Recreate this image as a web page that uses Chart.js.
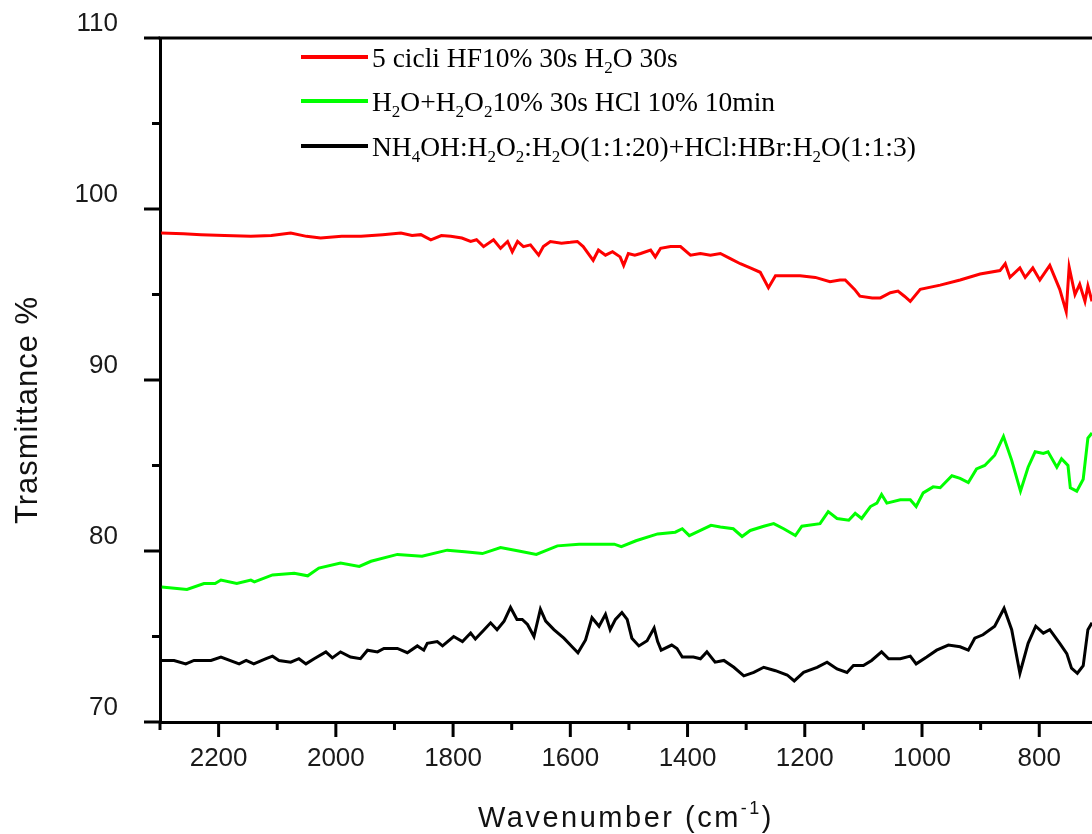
<!DOCTYPE html>
<html>
<head>
<meta charset="utf-8">
<script src="https://cdn.jsdelivr.net/npm/chart.js@4.4.1/dist/chart.umd.min.js"></script>
<style>
html,body{margin:0;padding:0;background:#ffffff;overflow:hidden}
canvas{display:block}
</style>
</head>
<body>
<canvas id="c" width="1092" height="834"></canvas>
<script>
// ---- data (wavenumber cm^-1, transmittance %) ----
const seriesLabels = [
  "5 cicli HF10% 30s H_2O 30s",
  "H_2O+H_2O_210% 30s HCl 10% 10min",
  "NH_4OH:H_2O_2:H_2O(1:1:20)+HCl:HBr:H_2O(1:1:3)"
];
const seriesColors = ["#ff0000", "#00ff00", "#000000"];

const redWn = [2298,2260,2230,2190,2145,2110,2077,2050,2026,1990,1957,1920,1889,1870,1855,1838,1820,1804,1785,1770,1760,1748,1731,1719,1707,1699,1690,1680,1668,1654,1646,1634,1615,1600,1588,1578,1561,1552,1540,1528,1515,1509,1501,1490,1480,1463,1455,1446,1429,1412,1395,1378,1361,1344,1327,1310,1293,1276,1262,1250,1225,1208,1182,1157,1140,1131,1115,1106,1085,1071,1054,1041,1030,1020,1003,969,935,901,867,858,850,833,824,811,799,782,765,754,749,739,731,722,717,710];
const redT  = [98.6,98.55,98.5,98.45,98.4,98.45,98.6,98.4,98.3,98.4,98.4,98.5,98.6,98.45,98.5,98.2,98.45,98.4,98.3,98.1,98.2,97.8,98.2,97.7,98.1,97.5,98.1,97.8,97.9,97.3,97.8,98.1,98.0,98.05,98.1,97.8,97.0,97.6,97.3,97.5,97.2,96.7,97.4,97.3,97.4,97.6,97.2,97.7,97.8,97.8,97.3,97.4,97.3,97.4,97.1,96.8,96.55,96.3,95.4,96.1,96.1,96.1,96.0,95.75,95.85,95.85,95.3,94.9,94.8,94.8,95.1,95.2,94.9,94.6,95.3,95.55,95.85,96.2,96.4,96.8,96.0,96.55,96.0,96.55,95.85,96.7,95.3,94.0,96.6,95.0,95.6,94.6,95.5,94.6];

const greenWn = [2297,2254,2225,2206,2196,2169,2145,2139,2108,2071,2048,2029,1992,1960,1940,1895,1853,1810,1780,1750,1719,1688,1658,1622,1585,1549,1525,1513,1488,1451,1421,1409,1397,1378,1360,1344,1322,1307,1293,1270,1253,1236,1216,1205,1174,1160,1145,1125,1114,1103,1088,1077,1069,1060,1037,1020,1010,998,981,969,949,935,921,907,893,876,861,847,832,819,807,793,785,770,762,751,747,736,725,717,710];
const greenT  = [77.9,77.75,78.1,78.1,78.3,78.1,78.3,78.2,78.6,78.7,78.55,79.0,79.3,79.1,79.4,79.8,79.7,80.05,79.95,79.85,80.2,80.0,79.8,80.3,80.4,80.4,80.4,80.25,80.6,81.0,81.1,81.3,80.9,81.2,81.5,81.4,81.3,80.85,81.2,81.45,81.6,81.3,80.9,81.45,81.6,82.3,81.9,81.8,82.2,81.9,82.6,82.8,83.3,82.8,83.0,83.0,82.6,83.4,83.75,83.7,84.4,84.25,84.0,84.8,85.0,85.6,86.7,85.3,83.5,84.9,85.8,85.7,85.8,84.9,85.4,85.0,83.7,83.5,84.2,86.6,86.9];

const blackWn = [2298,2276,2256,2242,2213,2196,2165,2153,2140,2119,2108,2097,2077,2063,2051,2037,2017,2006,1992,1975,1958,1946,1929,1918,1895,1878,1861,1850,1844,1827,1818,1799,1784,1770,1762,1747,1736,1725,1713,1702,1691,1682,1673,1662,1651,1642,1628,1611,1597,1587,1574,1563,1551,1540,1532,1523,1512,1503,1495,1483,1469,1457,1451,1445,1427,1418,1409,1390,1378,1367,1353,1338,1321,1304,1287,1270,1250,1230,1218,1202,1179,1162,1145,1128,1117,1100,1086,1069,1057,1037,1020,1010,992,975,955,935,921,910,896,876,860,847,833,819,806,793,782,765,753,745,735,725,717,710];
const blackT  = [73.6,73.6,73.4,73.6,73.6,73.8,73.4,73.6,73.4,73.7,73.85,73.6,73.5,73.7,73.4,73.7,74.1,73.75,74.1,73.8,73.7,74.2,74.1,74.3,74.3,74.05,74.45,74.2,74.6,74.7,74.45,75.0,74.7,75.2,74.85,75.4,75.8,75.4,75.9,76.7,76.0,76.0,75.7,75.0,76.6,75.9,75.4,74.9,74.4,74.05,74.8,76.1,75.6,76.3,75.4,76.0,76.4,76.0,74.9,74.45,74.75,75.5,74.7,74.2,74.5,74.3,73.8,73.8,73.7,74.1,73.5,73.6,73.2,72.7,72.9,73.2,73.0,72.75,72.4,72.9,73.2,73.5,73.1,72.9,73.3,73.3,73.6,74.1,73.7,73.7,73.85,73.4,73.8,74.2,74.5,74.4,74.2,74.9,75.1,75.6,76.65,75.4,72.85,74.6,75.6,75.2,75.4,74.6,74.0,73.15,72.85,73.3,75.4,75.8];

const xMajorTicks = [2200, 2000, 1800, 1600, 1400, 1200, 1000, 800];
const xMinorTicks = [2300, 2100, 1900, 1700, 1500, 1300, 1100, 900];
const yMajorTicks = [70, 80, 90, 100, 110];
const yMinorTicks = [75, 85, 95, 105];
const xTitle = ["Wavenumber (cm", "-1", ")"];
const yTitle = "Trasmittance %";

// ---- helpers ----
function toXY(wn, t){ return wn.map((w,i)=>({x:w, y:t[i]})); }
function richParts(s){
  const parts=[]; const re=/_(\d)/g; let last=0, m;
  while((m=re.exec(s))){
    if(m.index>last) parts.push([s.slice(last,m.index),0]);
    parts.push([m[1],1]); last=re.lastIndex;
  }
  if(last<s.length) parts.push([s.slice(last),0]);
  return parts;
}
const plainLabel = s => s.replace(/_(\d)/g,'$1');

const MAIN_FONT = '27.5px "Liberation Serif", "Times New Roman", serif';
const SUB_FONT  = '17px "Liberation Serif", "Times New Roman", serif';

const decor = {
  id: 'decor',
  afterDraw(chart){
    const ctx = chart.ctx, ca = chart.chartArea;
    const xs = chart.scales.x, ys = chart.scales.y;
    ctx.save();
    ctx.strokeStyle = '#000'; ctx.lineWidth = 3; ctx.lineCap = 'butt';
    // top frame
    ctx.beginPath(); ctx.moveTo(ca.left-1.5, ca.top); ctx.lineTo(ca.right, ca.top); ctx.stroke();
    // y ticks
    const yl = ca.left;
    yMajorTicks.forEach(v=>{ const p = ys.getPixelForValue(v); ctx.beginPath(); ctx.moveTo(yl,p); ctx.lineTo(yl-16,p); ctx.stroke(); });
    yMinorTicks.forEach(v=>{ const p = ys.getPixelForValue(v); ctx.beginPath(); ctx.moveTo(yl,p); ctx.lineTo(yl-8,p); ctx.stroke(); });
    // x ticks
    const xb = ca.bottom;
    xMajorTicks.forEach(v=>{ const p = xs.getPixelForValue(v); ctx.beginPath(); ctx.moveTo(p,xb); ctx.lineTo(p,xb+15); ctx.stroke(); });
    xMinorTicks.forEach(v=>{ const p = xs.getPixelForValue(v); ctx.beginPath(); ctx.moveTo(p,xb); ctx.lineTo(p,xb+8); ctx.stroke(); });

    // x title with superscript
    ctx.fillStyle = '#111';
    ctx.textBaseline = 'alphabetic';
    ctx.letterSpacing = '2.5px';
    const fMain = '29px "Liberation Sans", Arial, sans-serif';
    const fSup = '18px "Liberation Sans", Arial, sans-serif';
    ctx.font = fMain; const w0 = ctx.measureText(xTitle[0]).width; const w2 = ctx.measureText(xTitle[2]).width;
    ctx.font = fSup; const w1 = ctx.measureText(xTitle[1]).width;
    let x = (ca.left+ca.right)/2 - (w0+w1+w2)/2;
    const by = 827;
    ctx.textAlign = 'left';
    ctx.font = fMain; ctx.fillText(xTitle[0], x, by); x += w0;
    ctx.font = fSup; ctx.fillText(xTitle[1], x, by-13); x += w1;
    ctx.font = fMain; ctx.fillText(xTitle[2], x, by);

    // y title
    ctx.save();
    ctx.translate(37, 410); ctx.rotate(-Math.PI/2);
    ctx.font = '31px "Liberation Sans", Arial, sans-serif';
    ctx.letterSpacing = '1px';
    ctx.textAlign = 'center'; ctx.fillText(yTitle, 0, 0);
    ctx.restore();
    ctx.letterSpacing = '0px';

    // legend
    const rows = [57, 101, 146];
    chart.data.datasets.forEach((ds, i)=>{
      const ry = rows[i];
      ctx.strokeStyle = ds.borderColor; ctx.lineWidth = 4;
      ctx.beginPath(); ctx.moveTo(301, ry); ctx.lineTo(368, ry); ctx.stroke();
      let tx = 372; const base = ry + 10;
      ctx.fillStyle = '#000';
      richParts(seriesLabels[i]).forEach(([t,sub])=>{
        ctx.font = sub ? SUB_FONT : MAIN_FONT;
        ctx.fillText(t, tx, sub ? base+6 : base);
        tx += ctx.measureText(t).width;
      });
    });
    ctx.restore();
  }
};

const zeroPad = s => { s.paddingTop = 0; s.paddingBottom = 0; s.paddingLeft = 0; s.paddingRight = 0; };

new Chart(document.getElementById('c'), {
  type: 'line',
  data: {
    datasets: [0,1,2].map(i=>({
      label: plainLabel(seriesLabels[i]),
      data: toXY([redWn,greenWn,blackWn][i], [redT,greenT,blackT][i]),
      borderColor: seriesColors[i],
      borderWidth: 3,
      pointRadius: 0,
      tension: 0,
      fill: false
    }))
  },
  options: {
    responsive: false,
    animation: false,
    devicePixelRatio: 1,
    layout: { padding: { top: 38, left: 0, right: 0, bottom: 0 } },
    plugins: { legend: { display: false }, tooltip: { enabled: false } },
    scales: {
      x: {
        type: 'linear', reverse: true, min: 710, max: 2300,
        afterBuildTicks: s => { s.ticks = xMajorTicks.map(v=>({value:v})); },
        afterFit: s => { s.height = 112; zeroPad(s); },
        grid: { display: false, drawTicks: false },
        border: { display: true, color: '#000', width: 3 },
        ticks: { padding: 21, maxRotation: 0, autoSkip: false, color: '#1a1a1a',
                 font: { family: '"Liberation Sans", Arial, sans-serif', size: 26 },
                 callback: v => String(v) }
      },
      y: {
        type: 'linear', min: 70, max: 110,
        afterBuildTicks: s => { s.ticks = yMajorTicks.map(v=>({value:v})); },
        afterFit: s => { s.width = 160; zeroPad(s); },
        grid: { display: false, drawTicks: false },
        border: { display: true, color: '#000', width: 3 },
        ticks: { padding: 42, labelOffset: -14, color: '#1a1a1a',
                 font: { family: '"Liberation Sans", Arial, sans-serif', size: 26 },
                 callback: v => String(v) }
      }
    }
  },
  plugins: [decor]
});
</script>
</body>
</html>
